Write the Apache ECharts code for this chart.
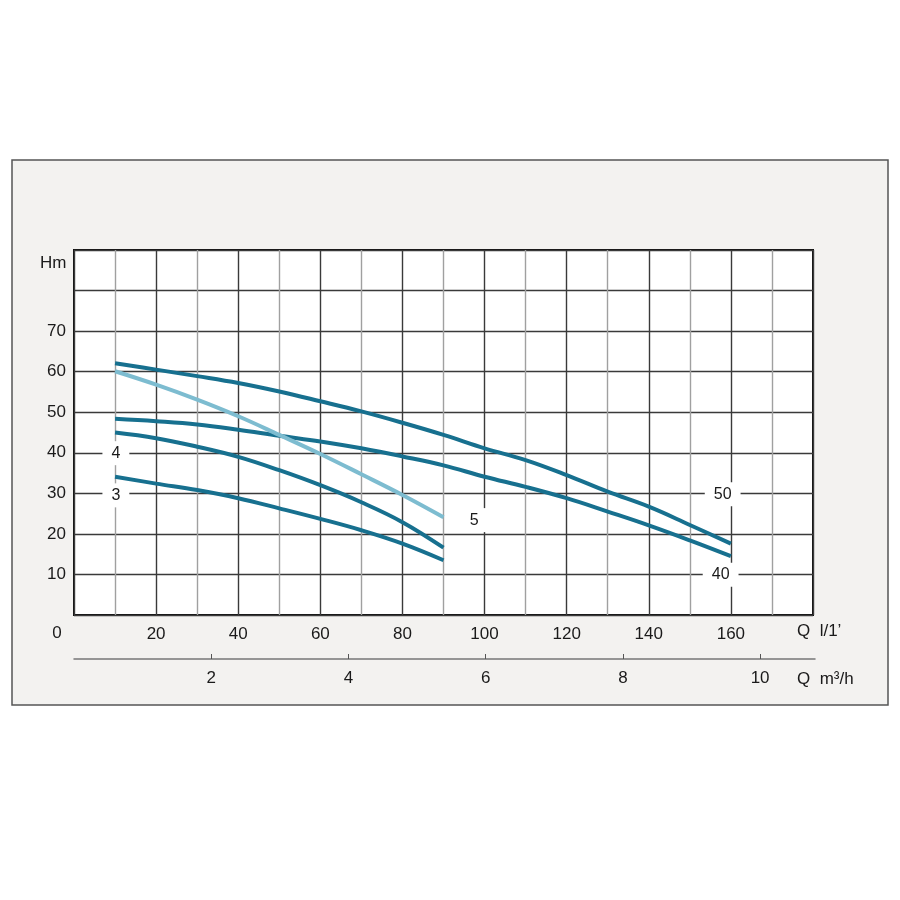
<!DOCTYPE html>
<html><head><meta charset="utf-8">
<script src="https://cdn.jsdelivr.net/npm/echarts@6/dist/echarts.min.js"></script>
<style>html,body{margin:0;padding:0;background:#fff}#c{width:900px;height:900px}</style>
</head><body><div id="c"></div>
<script>
// Flow Q in l/min
const q90 = [10, 20, 30, 40, 50, 60, 70, 80, 90];
const q160 = [10, 20, 30, 40, 50, 60, 70, 80, 90, 100, 110, 120, 130, 140, 150, 160];
// Head Hm per pump curve
const curve50 = [62.1, 60.5, 58.9, 57.2, 55.1, 52.7, 50.2, 47.4, 44.4, 41.1, 38.2, 34.5, 30.4, 26.7, 22.2, 17.6];
const curve40 = [48.4, 47.8, 47.0, 45.7, 44.2, 42.8, 41.1, 39.1, 36.9, 34.1, 31.6, 28.8, 25.5, 22.1, 18.4, 14.5];
const curve5 = [60.1, 56.8, 53.1, 49.0, 44.4, 39.7, 34.7, 29.6, 24.1];
const curve4 = [45.0, 43.6, 41.5, 39.0, 35.7, 32.0, 27.8, 22.9, 16.6];
const curve3 = [34.1, 32.4, 30.8, 28.8, 26.3, 23.7, 20.9, 17.6, 13.5];
// Curve name labels [Q, H, text]
const curveLabels = [[10.2, 39.9, '4'], [10.2, 29.5, '3'], [97.5, 23.4, '5'], [158, 29.8, '50'], [157.5, 9.9, '40']];
// Ticks
const qTicks = [20, 40, 60, 80, 100, 120, 140, 160];
const hTicks = [10, 20, 30, 40, 50, 60, 70];
const m3hTicks = [2, 4, 6, 8, 10];

const dark = '#17708f', light = '#7dbcd0';
const font = 'Liberation Sans';
const pair = (xs, ys) => xs.map((x, i) => [x, ys[i]]);

const chart = echarts.init(document.getElementById('c'), null, {renderer: 'canvas'});
const lineSeries = (data, color) => ({
  type: 'line', data, smooth: 0.4, symbol: 'none', silent: true,
  lineStyle: {color, width: 4}, z: 3
});
chart.setOption({
  animation: false,
  backgroundColor: '#ffffff',
  graphic: [
    {type: 'rect', z: -10, shape: {x: 12, y: 160, width: 876, height: 545},
     style: {fill: '#f3f2f0', stroke: '#555', lineWidth: 1.5}},
    {type: 'text', z: 10, x: 40, y: 263, style: {text: 'Hm', font: '17px "Liberation Sans"', fill: '#1a1a1a', verticalAlign: 'middle'}},
    {type: 'text', z: 10, x: 57, y: 633, style: {text: '0', font: '17px "Liberation Sans"', fill: '#1a1a1a', align: 'center', verticalAlign: 'middle'}},
    {type: 'text', z: 10, x: 797, y: 631, style: {text: "Q  l/1’", font: '17px "Liberation Sans"', fill: '#1a1a1a', verticalAlign: 'middle'}},
    {type: 'text', z: 10, x: 797, y: 679, style: {text: 'Q  m³/h', font: '17px "Liberation Sans"', fill: '#1a1a1a', verticalAlign: 'middle'}}
  ],
  grid: [
    {left: 74, right: 87, top: 250, bottom: 285, show: true, backgroundColor: '#ffffff', borderColor: '#111', borderWidth: 2},
    {left: 74, right: 85, top: 658, height: 1}
  ],
  xAxis: [
    {type: 'value', gridIndex: 0, min: 0, max: 180, interval: 10,
     axisLine: {show: false}, axisTick: {show: false},
     splitLine: {show: true, lineStyle: {color: ['#3a3a3a', '#a0a0a0'], width: 1.4}},
     axisLabel: {margin: 11, color: '#1a1a1a', fontFamily: font, fontSize: 17,
       formatter: v => qTicks.includes(v) ? String(v) : ''}},
    {type: 'value', gridIndex: 1, min: 0, max: 180 * 60 / 1000, position: 'bottom',
     axisLine: {show: true, lineStyle: {color: '#777', width: 1.5}},
     axisTick: {show: true, inside: true, length: 5, lineStyle: {color: '#555'}, customValues: m3hTicks},
     splitLine: {show: false},
     axisLabel: {margin: 11, color: '#1a1a1a', fontFamily: font, fontSize: 17, customValues: m3hTicks}}
  ],
  yAxis: [
    {type: 'value', gridIndex: 0, min: 0, max: 90, interval: 10,
     axisLine: {show: false}, axisTick: {show: false},
     splitLine: {show: true, lineStyle: {color: '#3a3a3a', width: 1.4}},
     axisLabel: {margin: 8, color: '#1a1a1a', fontFamily: font, fontSize: 17,
       formatter: v => hTicks.includes(v) ? String(v) : ''}},
    {type: 'value', gridIndex: 1, show: false, min: 0, max: 1}
  ],
  series: [
    {type: 'scatter', data: curveLabels, symbolSize: 0, silent: true, z: 2,
     itemStyle: {opacity: 1},
     label: {show: true, position: 'inside', formatter: p => p.data[2], opacity: 1,
       backgroundColor: '#ffffff', padding: [4, 9], color: '#1a1a1a', fontFamily: font, fontSize: 16}},
    lineSeries(pair(q160, curve50), dark),
    lineSeries(pair(q160, curve40), dark),
    lineSeries(pair(q90, curve4), dark),
    lineSeries(pair(q90, curve3), dark),
    lineSeries(pair(q90, curve5), light)
  ]
});
</script></body></html>
